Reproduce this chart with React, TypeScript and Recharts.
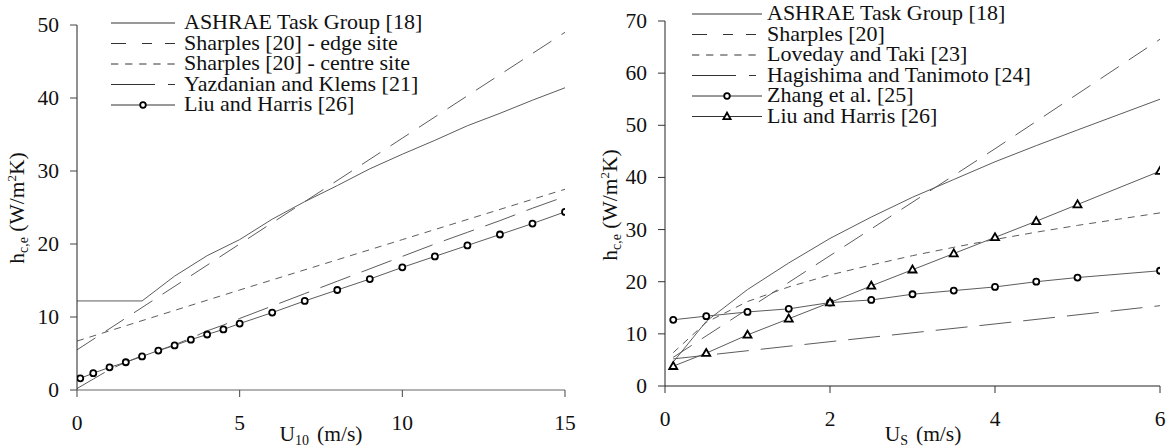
import React from 'react';
import { LineChart, Line, XAxis, YAxis, Legend } from 'recharts';

const FONT = "'Liberation Serif', 'Times New Roman', serif";
const LINE = '#5c5c5c';
const LEG_LINE = '#333';
const TXT = '#111';
const TICK_STYLE = { fontFamily: FONT, fontSize: 21.5 };
const TITLE_STYLE = { fontFamily: FONT, fontSize: 21.5 };
const LEG_STYLE = { fontFamily: FONT, fontSize: 22 };

// ---------- Left panel (U10) ----------
const leftXTicks = [0, 5, 10, 15];
const leftYTicks = [0, 10, 20, 30, 40, 50];

const ashraeLeftX = [0, 2, 3, 4, 5, 6, 7, 8, 9, 10, 11, 12, 13, 14, 15];
const ashraeLeftY = [12.2, 12.2, 15.6, 18.4, 20.6, 23.4, 25.8, 28.0, 30.3, 32.3, 34.2, 36.2, 37.9, 39.7, 41.4];

const sharplesEdgeX = [0, 5, 10, 15];
const sharplesEdgeY = [5.5, 20.0, 34.5, 49.0];

const sharplesCentreX = [0, 5, 10, 15];
const sharplesCentreY = [6.7, 13.7, 20.6, 27.5];

const yazdanianX = [0, 0.5, 1, 1.5, 2, 2.5, 3, 3.5, 4, 4.5, 5, 6, 7, 8, 9, 10, 11, 12, 13, 14, 15];
const yazdanianY = [0.2, 1.5, 2.8, 3.8, 4.7, 5.4, 6.2, 7.1, 8.1, 8.9, 9.8, 11.5, 13.2, 14.9, 16.6, 18.3, 20.0, 21.6, 23.2, 24.9, 26.5];

const liuLeftX = [0.1, 0.5, 1, 1.5, 2, 2.5, 3, 3.5, 4, 4.5, 5, 6, 7, 8, 9, 10, 11, 12, 13, 14, 15];
const liuLeftY = [1.6, 2.3, 3.1, 3.8, 4.6, 5.4, 6.1, 6.9, 7.6, 8.3, 9.1, 10.6, 12.2, 13.7, 15.2, 16.8, 18.3, 19.8, 21.3, 22.8, 24.4];

const leftLegendLabels = [
  'ASHRAE Task Group [18]',
  'Sharples [20] - edge site',
  'Sharples [20] - centre site',
  'Yazdanian and Klems [21]',
  'Liu and Harris [26]',
];

// ---------- Right panel (Us) ----------
const rightXTicks = [0, 2, 4, 6];
const rightYTicks = [0, 10, 20, 30, 40, 50, 60, 70];

const ashraeRightX = [0.1, 0.5, 1, 1.5, 2, 2.5, 3, 3.5, 4, 4.5, 5, 6];
const ashraeRightY = [4.6, 12.4, 18.5, 23.6, 28.3, 32.4, 36.2, 39.6, 43.0, 46.1, 49.1, 55.0];

const sharplesX = [0.1, 2, 4, 6];
const sharplesY = [5.5, 25.0, 45.5, 66.5];

const lovedayX = [0.1, 0.5, 1, 1.5, 2, 2.5, 3, 3.5, 4, 4.5, 5, 5.5, 6];
const lovedayY = [6.4, 12.2, 16.2, 19.0, 21.3, 23.2, 25.0, 26.6, 28.1, 29.5, 30.8, 32.0, 33.2];

const hagishimaX = [0.1, 2, 4, 6];
const hagishimaY = [5.2, 8.5, 11.9, 15.4];

const zhangX = [0.1, 0.5, 1, 1.5, 2, 2.5, 3, 3.5, 4, 4.5, 5, 6];
const zhangY = [12.7, 13.4, 14.2, 14.8, 16.0, 16.5, 17.6, 18.3, 19.0, 20.0, 20.8, 22.1];

const liuRightX = [0.1, 0.5, 1, 1.5, 2, 2.5, 3, 3.5, 4, 4.5, 5, 6];
const liuRightY = [3.8, 6.3, 9.8, 12.9, 16.0, 19.2, 22.3, 25.4, 28.5, 31.6, 34.8, 41.2];

const rightLegendLabels = [
  'ASHRAE Task Group [18]',
  'Sharples [20]',
  'Loveday and Taki [23]',
  'Hagishima and Tanimoto [24]',
  'Zhang et al. [25]',
  'Liu and Harris [26]',
];

// ---------- helpers ----------
const zip = (xs: number[], ys: number[]) => xs.map((x, i) => ({ x, y: ys[i] }));

const DASH_LONG = '22 12';
const DASH_SHORT = '7 6';
const DASH_LONGSHORT = '32 12';

const LEG_SOLID = '';
const LEG_LONG = '15 16 10 13 10';
const LEG_SHORT = '7.3 6.8';
const LEG_LONGSHORT = '44 13 7';

const CircleDot = (props: any) => {
  const { cx, cy, index } = props;
  if (cx == null || cy == null) return <g key={`c-${index}`} />;
  return <circle key={`c-${index}`} cx={cx} cy={cy} r={3} fill="#fff" stroke="#000" strokeWidth={1.8} />;
};

const TriDot = (props: any) => {
  const { cx, cy, index } = props;
  if (cx == null || cy == null) return <g key={`t-${index}`} />;
  const d = `M${cx},${cy - 4.2} L${cx - 4},${cy + 2.8} L${cx + 4},${cy + 2.8} Z`;
  return <path key={`t-${index}`} d={d} fill="#fff" stroke="#000" strokeWidth={1.8} strokeLinejoin="miter" />;
};

const XTick = (props: any) => {
  const { x, y, payload } = props;
  return (
    <text x={x} y={y + 31} textAnchor="middle" style={TICK_STYLE} fill={TXT}>
      {payload.value}
    </text>
  );
};

const YTick = (props: any) => {
  const { x, y, payload } = props;
  return (
    <text x={x - 9} y={y + 7} textAnchor="end" style={TICK_STYLE} fill={TXT}>
      {payload.value}
    </text>
  );
};

const YTitle = (props: any) => {
  const { cx, cy } = props;
  return (
    <text x={cx} y={cy} transform={`rotate(-90, ${cx}, ${cy})`} textAnchor="middle" style={TITLE_STYLE} fill={TXT}>
      h<tspan style={{ fontSize: 14 }} dy={4}>c,e</tspan>
      <tspan dy={-4}> (W/m</tspan>
      <tspan style={{ fontSize: 13 }} dy={-8}>2</tspan>
      <tspan dy={8}>K)</tspan>
    </text>
  );
};

const XTitle = (props: any) => {
  const { cx, cy, sub } = props;
  return (
    <text x={cx} y={cy} textAnchor="middle" style={TITLE_STYLE} fill={TXT}>
      U<tspan style={{ fontSize: 14 }} dy={4}>{sub}</tspan>
      <tspan dy={-4} dx={8}>(m/s)</tspan>
    </text>
  );
};

type LegItem = { label: string; dash: string; marker?: 'circle' | 'triangle' };

const LegendBox = ({ items, x0, x1, tx, y0, step }: { items: LegItem[]; x0: number; x1: number; tx: number; y0: number; step: number }) => (
  <svg width={360} height={140} style={{ display: 'block', overflow: 'visible' }}>
    {items.map((it, i) => {
      const y = y0 + i * step;
      const mx = (x0 + x1) / 2;
      return (
        <g key={i}>
          <line x1={x0} x2={x1} y1={y} y2={y} stroke={LEG_LINE} strokeWidth={1} strokeDasharray={it.dash || undefined} />
          {it.marker === 'circle' && <circle cx={mx} cy={y} r={2.8} fill="#fff" stroke="#000" strokeWidth={1.8} />}
          {it.marker === 'triangle' && (
            <path d={`M${mx},${y - 3.8} L${mx - 3.6},${y + 2.6} L${mx + 3.6},${y + 2.6} Z`} fill="#fff" stroke="#000" strokeWidth={1.8} />
          )}
          <text x={tx} y={y + 6} style={LEG_STYLE} fill={TXT}>
            {it.label}
          </text>
        </g>
      );
    })}
  </svg>
);

const leftLegendItems: LegItem[] = [
  { label: leftLegendLabels[0], dash: LEG_SOLID },
  { label: leftLegendLabels[1], dash: LEG_LONG },
  { label: leftLegendLabels[2], dash: LEG_SHORT },
  { label: leftLegendLabels[3], dash: LEG_LONGSHORT },
  { label: leftLegendLabels[4], dash: LEG_SOLID, marker: 'circle' },
];

const rightLegendItems: LegItem[] = [
  { label: rightLegendLabels[0], dash: LEG_SOLID },
  { label: rightLegendLabels[1], dash: LEG_LONG },
  { label: rightLegendLabels[2], dash: LEG_SHORT },
  { label: rightLegendLabels[3], dash: LEG_LONGSHORT },
  { label: rightLegendLabels[4], dash: LEG_SOLID, marker: 'circle' },
  { label: rightLegendLabels[5], dash: LEG_SOLID, marker: 'triangle' },
];

const lineCommon = {
  type: 'linear' as const,
  dataKey: 'y',
  stroke: LINE,
  strokeWidth: 1,
  isAnimationActive: false,
  activeDot: false as const,
  legendType: 'none' as const,
};

const LeftChart = () => (
  <LineChart width={590} height={448} margin={{ top: 25, right: 25, left: 27, bottom: 0 }}>
    <XAxis type="number" dataKey="x" domain={[0, 15]} ticks={leftXTicks} allowDataOverflow height={58} tickSize={7}
      tick={<XTick />} axisLine={{ stroke: '#666' }} tickLine={{ stroke: '#444' }} label={<XTitle cx={321} cy={441} sub="10" />} />
    <YAxis type="number" domain={[0, 50]} ticks={leftYTicks} allowDataOverflow width={50} tickSize={7}
      tick={<YTick />} axisLine={{ stroke: '#222' }} tickLine={{ stroke: '#444' }} label={<YTitle cx={24} cy={208} />} />
    <Legend layout="vertical" align="center" verticalAlign="middle"
      wrapperStyle={{ position: 'absolute', left: 100, top: 0, width: 360, height: 140 }}
      content={() => <LegendBox items={leftLegendItems} x0={11} x1={75} tx={84} y0={23} step={20.5} />} />
    <Line {...lineCommon} data={zip(ashraeLeftX, ashraeLeftY)} dot={false} name="ASHRAE" />
    <Line {...lineCommon} data={zip(sharplesEdgeX, sharplesEdgeY)} dot={false} strokeDasharray={DASH_LONG} name="edge" />
    <Line {...lineCommon} data={zip(sharplesCentreX, sharplesCentreY)} dot={false} strokeDasharray={DASH_SHORT} name="centre" />
    <Line {...lineCommon} data={zip(yazdanianX, yazdanianY)} dot={false} strokeDasharray={DASH_LONGSHORT} name="yk" />
    <Line {...lineCommon} data={zip(liuLeftX, liuLeftY)} dot={<CircleDot />} name="liu" />
  </LineChart>
);

const RightChart = () => (
  <LineChart width={580} height={448} margin={{ top: 21, right: 10, left: 25, bottom: 0 }}>
    <XAxis type="number" dataKey="x" domain={[0, 6]} ticks={rightXTicks} allowDataOverflow height={62} tickSize={7}
      tick={<XTick />} axisLine={{ stroke: '#222' }} tickLine={{ stroke: '#333' }} label={<XTitle cx={333} cy={441} sub="S" />} />
    <YAxis type="number" domain={[0, 70]} ticks={rightYTicks} allowDataOverflow width={50} tickSize={7}
      tick={<YTick />} axisLine={{ stroke: '#222' }} tickLine={{ stroke: '#333' }} label={<YTitle cx={27} cy={205} />} />
    <Legend layout="vertical" align="center" verticalAlign="middle"
      wrapperStyle={{ position: 'absolute', left: 90, top: 0, width: 360, height: 140 }}
      content={() => <LegendBox items={rightLegendItems} x0={12} x1={82} tx={87} y0={14} step={20.5} />} />
    <Line {...lineCommon} data={zip(ashraeRightX, ashraeRightY)} dot={false} name="ASHRAE" />
    <Line {...lineCommon} data={zip(sharplesX, sharplesY)} dot={false} strokeDasharray={DASH_LONG} name="sharples" />
    <Line {...lineCommon} data={zip(lovedayX, lovedayY)} dot={false} strokeDasharray={DASH_SHORT} name="loveday" />
    <Line {...lineCommon} data={zip(hagishimaX, hagishimaY)} dot={false} strokeDasharray={DASH_LONGSHORT} name="hagishima" />
    <Line {...lineCommon} data={zip(zhangX, zhangY)} dot={<CircleDot />} name="zhang" />
    <Line {...lineCommon} data={zip(liuRightX, liuRightY)} dot={<TriDot />} name="liu" />
  </LineChart>
);

export default function App() {
  return (
    <div style={{ position: 'absolute', left: 0, top: 0, width: 1170, height: 448, background: '#fff', overflow: 'hidden', fontFamily: FONT }}>
      <div style={{ position: 'absolute', left: 0, top: 0, width: 590, height: 448 }}>
        <LeftChart />
      </div>
      <div style={{ position: 'absolute', left: 590, top: 0, width: 580, height: 448 }}>
        <RightChart />
      </div>
    </div>
  );
}
